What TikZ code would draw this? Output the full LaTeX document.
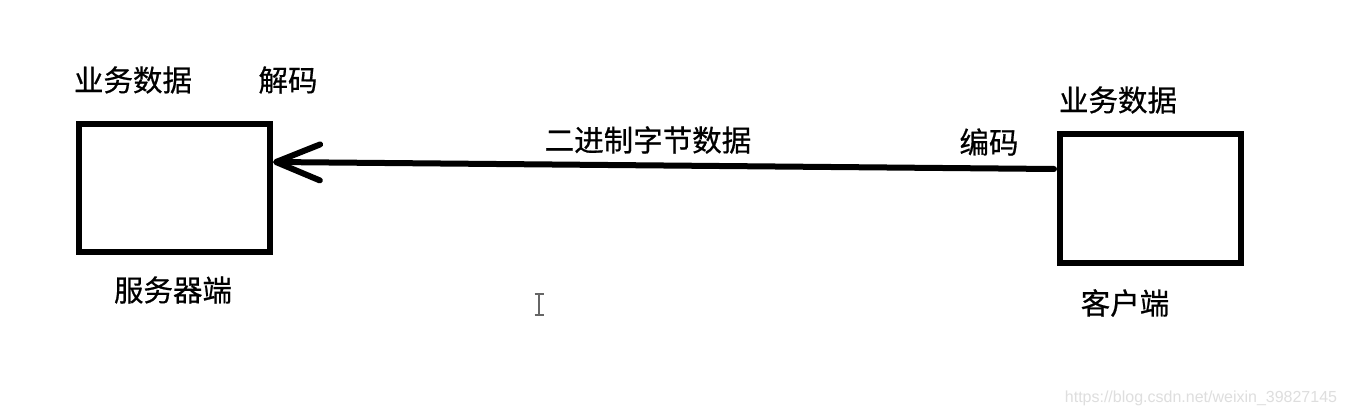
\documentclass[tikz,border=0pt]{standalone}
\usepackage{fontspec}
\newfontfamily\cjk[FakeBold=0.6]{Noto Sans CJK SC}
\setsansfont{Liberation Sans}
\usetikzlibrary{arrows.meta}
\begin{document}
\begin{tikzpicture}[x=1pt,y=-1pt,
  box/.style={draw,line width=6pt,minimum width=#1,outer sep=0pt,inner sep=0pt},
  lbl/.style={font=\cjk\fontsize{29.5}{32}\selectfont,inner sep=0pt},
  conn/.style={line width=6pt,line cap=round,-{Straight Barb[length=44pt,width=36pt,line cap=round,line join=round]}}
]
\useasboundingbox (0,0) rectangle (1347,414);
\fill[white] (0,0) rectangle (1347,414);
\node[box=191pt,minimum height=128pt] (srv) at (174.5,188) {};
\node[box=181pt,minimum height=129pt] (cli) at (1150.5,198.5) {};
\coordinate (start) at (1054,169);
\coordinate (tip) at (273,162);
\draw[conn] (start) -- (tip);
\node[lbl] (t1) at (133,80) {业务数据};
\node[lbl] (t2) at (288,80) {解码};
\node[lbl] (t3) at (173,290) {服务器端};
\node[lbl] (t4) at (648,140) {二进制字节数据};
\node[lbl] (t5) at (989,142) {编码};
\node[lbl] (t6) at (1118,100) {业务数据};
\node[lbl] (t7) at (1125,303) {客户端};
\node[font=\sffamily\fontsize{16}{18}\selectfont,text=black!13,inner sep=0pt] (wm) at (1201,398) {https://blog.csdn.net/weixin\_39827145};
\draw[black!60,line width=1.5pt] (539,294) -- (539,315) (534.5,294) -- (543.5,294) (534.5,315) -- (543.5,315);
\end{tikzpicture}
\end{document}
